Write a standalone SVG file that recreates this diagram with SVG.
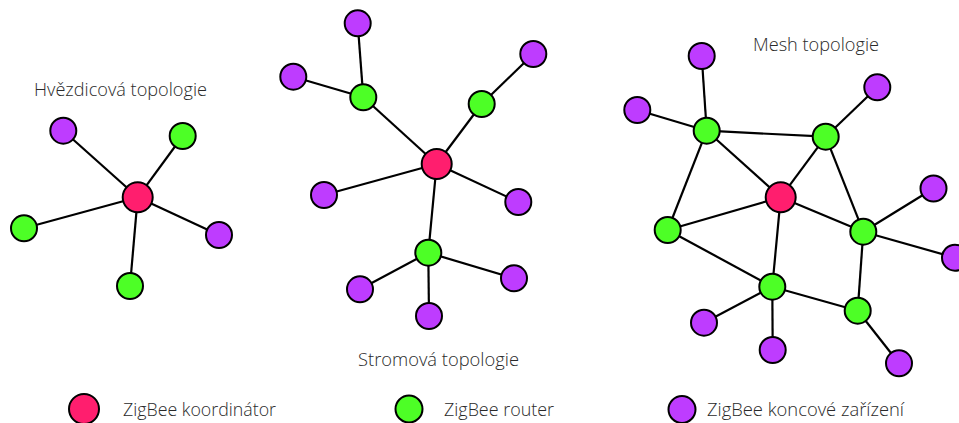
<svg xmlns="http://www.w3.org/2000/svg" width="959" height="423" viewBox="0 0 959 423">
<style>
.e{stroke:#000;stroke-width:2.2;fill:none}
.n{stroke:#000;stroke-width:2}
.k{fill:#FF1E6E}
.r{fill:#4DFF26}
.p{fill:#BE3CFF}
.t{font-family:"Open Sans","Liberation Sans",sans-serif;font-size:17.5px;fill:#2a2a2a;font-weight:300}
</style>
<rect width="959" height="423" fill="#fff"/>
<g id="connectors">
<line class="e" x1="137.7" y1="197.3" x2="63.3" y2="130.7"/>
<line class="e" x1="137.7" y1="197.3" x2="182.7" y2="136"/>
<line class="e" x1="137.7" y1="197.3" x2="24" y2="228.3"/>
<line class="e" x1="137.7" y1="197.3" x2="219" y2="235"/>
<line class="e" x1="137.7" y1="197.3" x2="130" y2="286"/>
<line class="e" x1="436.7" y1="164" x2="363.3" y2="97.3"/>
<line class="e" x1="363.3" y1="97.3" x2="357.7" y2="23.3"/>
<line class="e" x1="363.3" y1="97.3" x2="293.3" y2="76.7"/>
<line class="e" x1="436.7" y1="164" x2="481.7" y2="104"/>
<line class="e" x1="481.7" y1="104" x2="533.3" y2="54"/>
<line class="e" x1="436.7" y1="164" x2="324" y2="195"/>
<line class="e" x1="436.7" y1="164" x2="518.3" y2="202"/>
<line class="e" x1="436.7" y1="164" x2="428.3" y2="252.7"/>
<line class="e" x1="428.3" y1="252.7" x2="360" y2="289.3"/>
<line class="e" x1="428.3" y1="252.7" x2="429" y2="316"/>
<line class="e" x1="428.3" y1="252.7" x2="514" y2="278.3"/>
<line class="e" x1="706.7" y1="130.7" x2="701.7" y2="56"/>
<line class="e" x1="706.7" y1="130.7" x2="637.3" y2="110"/>
<line class="e" x1="706.7" y1="130.7" x2="825.7" y2="136.7"/>
<line class="e" x1="706.7" y1="130.7" x2="780.7" y2="197.3"/>
<line class="e" x1="706.7" y1="130.7" x2="667.7" y2="230"/>
<line class="e" x1="825.7" y1="136.7" x2="877.3" y2="87.3"/>
<line class="e" x1="825.7" y1="136.7" x2="780.7" y2="197.3"/>
<line class="e" x1="825.7" y1="136.7" x2="863.3" y2="231.7"/>
<line class="e" x1="780.7" y1="197.3" x2="667.7" y2="230"/>
<line class="e" x1="780.7" y1="197.3" x2="772.3" y2="286.7"/>
<line class="e" x1="780.7" y1="197.3" x2="863.3" y2="231.7"/>
<line class="e" x1="863.3" y1="231.7" x2="933.5" y2="188.5"/>
<line class="e" x1="863.3" y1="231.7" x2="955" y2="257.7"/>
<line class="e" x1="863.3" y1="231.7" x2="857.7" y2="310.7"/>
<line class="e" x1="667.7" y1="230" x2="772.3" y2="286.7"/>
<line class="e" x1="772.3" y1="286.7" x2="857.7" y2="310.7"/>
<line class="e" x1="772.3" y1="286.7" x2="704" y2="322.7"/>
<line class="e" x1="772.3" y1="286.7" x2="772.7" y2="350"/>
<line class="e" x1="857.7" y1="310.7" x2="899" y2="363.3"/>
</g>
<g id="star">
<g id="s_c"><circle class="n k" cx="137.7" cy="197.3" r="15"/></g>
<g id="s_p1"><circle class="n p" cx="63.3" cy="130.7" r="13"/></g>
<g id="s_g1"><circle class="n r" cx="182.7" cy="136" r="13"/></g>
<g id="s_g2"><circle class="n r" cx="24" cy="228.3" r="13"/></g>
<g id="s_p2"><circle class="n p" cx="219" cy="235" r="13"/></g>
<g id="s_g3"><circle class="n r" cx="130" cy="286" r="13"/></g>
</g>
<g id="tree">
<g id="t_c"><circle class="n k" cx="436.7" cy="164" r="15"/></g>
<g id="t_gl"><circle class="n r" cx="363.3" cy="97.3" r="13"/></g>
<g id="t_pt"><circle class="n p" cx="357.7" cy="23.3" r="13"/></g>
<g id="t_pl"><circle class="n p" cx="293.3" cy="76.7" r="13"/></g>
<g id="t_gr"><circle class="n r" cx="481.7" cy="104" r="13"/></g>
<g id="t_prt"><circle class="n p" cx="533.3" cy="54" r="13"/></g>
<g id="t_pll"><circle class="n p" cx="324" cy="195" r="13"/></g>
<g id="t_prl"><circle class="n p" cx="518.3" cy="202" r="13"/></g>
<g id="t_gb"><circle class="n r" cx="428.3" cy="252.7" r="13"/></g>
<g id="t_pb1"><circle class="n p" cx="360" cy="289.3" r="13"/></g>
<g id="t_pb2"><circle class="n p" cx="429" cy="316" r="13"/></g>
<g id="t_pb3"><circle class="n p" cx="514" cy="278.3" r="13"/></g>
</g>
<g id="mesh">
<g id="m_pt"><circle class="n p" cx="701.7" cy="56" r="13"/></g>
<g id="m_pl"><circle class="n p" cx="637.3" cy="110" r="13"/></g>
<g id="m_ga"><circle class="n r" cx="706.7" cy="130.7" r="13"/></g>
<g id="m_ptr"><circle class="n p" cx="877.3" cy="87.3" r="13"/></g>
<g id="m_gb"><circle class="n r" cx="825.7" cy="136.7" r="13"/></g>
<g id="m_c"><circle class="n k" cx="780.7" cy="197.3" r="15"/></g>
<g id="m_pr"><circle class="n p" cx="933.5" cy="188.5" r="13"/></g>
<g id="m_gc"><circle class="n r" cx="667.7" cy="230" r="13"/></g>
<g id="m_gd"><circle class="n r" cx="863.3" cy="231.7" r="13"/></g>
<g id="m_pfr"><circle class="n p" cx="955" cy="257.7" r="13"/></g>
<g id="m_ge"><circle class="n r" cx="772.3" cy="286.7" r="13"/></g>
<g id="m_gf"><circle class="n r" cx="857.7" cy="310.7" r="13"/></g>
<g id="m_pbl"><circle class="n p" cx="704" cy="322.7" r="13"/></g>
<g id="m_pb"><circle class="n p" cx="772.7" cy="350" r="13"/></g>
<g id="m_pbr"><circle class="n p" cx="899" cy="363.3" r="13"/></g>
</g>
<g id="titles">
<text class="t" x="34" y="96" textLength="173" lengthAdjust="spacingAndGlyphs">Hvězdicová topologie</text>
<text class="t" x="358" y="366" textLength="161" lengthAdjust="spacingAndGlyphs">Stromová topologie</text>
<text class="t" x="753" y="51" textLength="126" lengthAdjust="spacingAndGlyphs">Mesh topologie</text>
</g>
<g id="legend">
<g id="leg_k"><circle class="n k" cx="84" cy="409" r="15"/><text class="t" x="123" y="415.5" textLength="153" lengthAdjust="spacingAndGlyphs">ZigBee koordinátor</text></g>
<g id="leg_r"><circle class="n r" cx="409" cy="409" r="13.5"/><text class="t" x="444" y="415.5" textLength="110" lengthAdjust="spacingAndGlyphs">ZigBee router</text></g>
<g id="leg_p"><circle class="n p" cx="682" cy="409.5" r="13.5"/><text class="t" x="707" y="415.5" textLength="197" lengthAdjust="spacingAndGlyphs">ZigBee koncové zařízení</text></g>
</g>
</svg>
